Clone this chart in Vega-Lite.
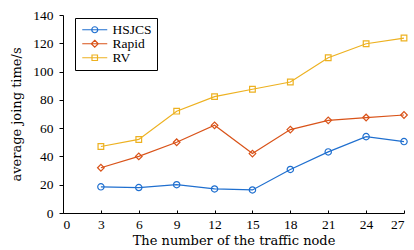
{
  "$schema": "https://vega.github.io/schema/vega-lite/v6.json",
  "width": 341,
  "height": 198,
  "autosize": {"type": "none"},
  "padding": {"left": 63, "top": 15, "right": 10, "bottom": 37},
  "background": "white",
  "config": {
    "view": {"stroke": null},
    "font": "Liberation Serif",
    "axis": {
      "grid": false,
      "domainColor": "black",
      "tickColor": "black",
      "labelColor": "black",
      "titleColor": "black",
      "labelFont": "Liberation Serif",
      "titleFont": "DejaVu Serif",
      "labelFontSize": 13.5,
      "titleFontSize": 13,
      "titleFontWeight": "normal"
    }
  },
  "data": {
    "values": [
      {"n": 3, "series": "HSJCS", "t": 18.5},
      {"n": 6, "series": "HSJCS", "t": 18},
      {"n": 9, "series": "HSJCS", "t": 20},
      {"n": 12, "series": "HSJCS", "t": 17},
      {"n": 15, "series": "HSJCS", "t": 16.3},
      {"n": 18, "series": "HSJCS", "t": 30.8},
      {"n": 21, "series": "HSJCS", "t": 43.2},
      {"n": 24, "series": "HSJCS", "t": 54},
      {"n": 27, "series": "HSJCS", "t": 50.5},
      {"n": 3, "series": "Rapid", "t": 32},
      {"n": 6, "series": "Rapid", "t": 40},
      {"n": 9, "series": "Rapid", "t": 50},
      {"n": 12, "series": "Rapid", "t": 62},
      {"n": 15, "series": "Rapid", "t": 42},
      {"n": 18, "series": "Rapid", "t": 59},
      {"n": 21, "series": "Rapid", "t": 65.5},
      {"n": 24, "series": "Rapid", "t": 67.5},
      {"n": 27, "series": "Rapid", "t": 69.3},
      {"n": 3, "series": "RV", "t": 47},
      {"n": 6, "series": "RV", "t": 52},
      {"n": 9, "series": "RV", "t": 72},
      {"n": 12, "series": "RV", "t": 82.3},
      {"n": 15, "series": "RV", "t": 87.5},
      {"n": 18, "series": "RV", "t": 92.6},
      {"n": 21, "series": "RV", "t": 109.8},
      {"n": 24, "series": "RV", "t": 119.7},
      {"n": 27, "series": "RV", "t": 123.7}
    ]
  },
  "encoding": {
    "x": {
      "field": "n", "type": "quantitative",
      "scale": {"domain": [0, 27], "nice": false, "zero": false},
      "axis": {"values": [0, 3, 6, 9, 12, 15, 18, 21, 24, 27], "title": "The number of the traffic node", "tickSize": -3, "labelPadding": 7, "titlePadding": 4}
    },
    "y": {
      "field": "t", "type": "quantitative",
      "scale": {"domain": [0, 140], "nice": false},
      "axis": {"values": [0, 20, 40, 60, 80, 100, 120, 140], "title": "average joing time/s", "tickSize": 4, "labelPadding": 6, "titlePadding": 9}
    },
    "color": {
      "field": "series", "type": "nominal",
      "scale": {"domain": ["HSJCS", "Rapid", "RV"], "range": ["#1f6fcf", "#d95319", "#edb120"]},
      "legend": {
        "title": null,
        "orient": "none",
        "legendX": 12,
        "legendY": 3,
        "padding": 5,
        "strokeColor": "black",
        "fillColor": "white",
        "labelFont": "Liberation Serif",
        "labelFontSize": 13.5,
        "labelColor": "black",
        "labelOffset": 11,
        "symbolSize": 100,
        "symbolOffset": 8,
        "symbolStrokeWidth": 1.2,
        "symbolFillColor": "transparent",
        "rowPadding": -4,
        "encode": {
          "symbols": {
            "update": {
              "fill": {"value": "transparent"},
              "shape": {"signal": "datum.value === 'HSJCS' ? 'M-2.5,0H2.5M0.6,0A0.6,0.6 0 1,1 -0.6,0A0.6,0.6 0 1,1 0.6,0' : datum.value === 'Rapid' ? 'M-2.5,0H2.5M0,-0.7L0.7,0L0,0.7L-0.7,0Z' : 'M-2.5,0H2.5M-0.55,-0.55H0.55V0.55H-0.55Z'"}
            }
          }
        }
      }
    }
  },
  "layer": [
    {
      "mark": {"type": "line", "strokeWidth": 1.2}
    },
    {
      "transform": [{"filter": "datum.series === 'HSJCS'"}],
      "mark": {"type": "point", "shape": "circle", "filled": false, "strokeWidth": 1.2, "size": 40, "opacity": 1}
    },
    {
      "transform": [{"filter": "datum.series === 'Rapid'"}],
      "mark": {"type": "point", "shape": "diamond", "filled": false, "strokeWidth": 1.2, "size": 44, "opacity": 1}
    },
    {
      "transform": [{"filter": "datum.series === 'RV'"}],
      "mark": {"type": "point", "shape": "square", "filled": false, "strokeWidth": 1.2, "size": 32, "opacity": 1}
    }
  ]
}
